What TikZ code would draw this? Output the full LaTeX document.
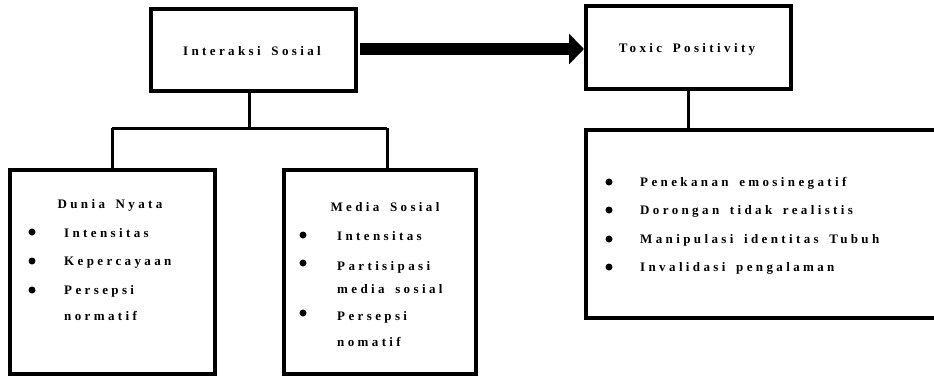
\documentclass[tikz,border=0pt]{standalone}
\usepackage{fontspec}
\setmainfont{Liberation Serif}
\newfontfamily\trk[LetterSpace=26,WordSpace=1.6]{Liberation Serif}
\usetikzlibrary{arrows.meta}
\begin{document}
\begin{tikzpicture}[x=1pt,y=-1pt,
  box/.style={draw,line width=4pt,inner sep=0,fill=white},
  conn/.style={line width=3pt},
  txt/.style={font=\trk\bfseries\fontsize{13}{15}\selectfont,inner sep=0,anchor=west},
  ttl/.style={font=\trk\bfseries\fontsize{13}{15}\selectfont,inner sep=0},
  dot/.style={circle,fill=black,inner sep=0,minimum size=7pt}]
\useasboundingbox (0,0) rectangle (934,378);
% boxes
\node[box,minimum width=205pt,minimum height=82pt] (inter) at (253.5,50) {};
\node[box,minimum width=205pt,minimum height=83pt] (toxic) at (688.5,47.5) {};
\node[box,minimum width=205pt,minimum height=204pt] (lb) at (112.5,272) {};
\node[box,minimum width=192pt,minimum height=204pt] (mb) at (380,272) {};
\node[box,minimum width=357pt,minimum height=188pt] (rb) at (764.5,224) {};
% titles
\node[ttl] (t1) at (252,51) {Interaksi Sosial};
\node[ttl] (t2) at (687,49) {Toxic Positivity};
\node[ttl] (t3) at (110,205) {Dunia Nyata};
\node[ttl] (t4) at (385,207) {Media Sosial};
% connectors
\coordinate (ja) at (249,128);
\coordinate (jl) at (112,128);
\coordinate (jr) at (387,128);
\draw[conn] (ja |- inter.south) -- (ja);
\draw[conn] (jl) -- (jr);
\draw[conn] (jl) -- (jl |- lb.north);
\draw[conn] (jr) -- (jr |- mb.north);
\draw[conn] (toxic.south) -- (rb.north -| toxic.south);
\draw[line width=12pt,-{Triangle[length=15pt,width=30pt]}] (inter.east) ++(2,0) coordinate (as) (as |- 0,49) -- (toxic.west |- 0,49);
% left list
\node[dot] (lb1) at (32,232) {};
\node[dot] (lb2) at (32,261) {};
\node[dot] (lb3) at (32,290) {};
\node[txt] (l1) at (64,233) {Intensitas};
\node[txt] (l2) at (64,263) {Kepercayaan};
\node[txt] (l3) at (64,291) {Persepsi};
\node[txt] (l4) at (64,316) {normatif};
% middle list
\node[dot] (mb1) at (303,235) {};
\node[dot] (mb2) at (303,263) {};
\node[dot] (mb3) at (303,313) {};
\node[txt] (m1) at (337,236) {Intensitas};
\node[txt] (m2) at (337,267) {Partisipasi};
\node[txt] (m3) at (337,289) {media sosial};
\node[txt] (m4) at (337,317) {Persepsi};
\node[txt] (m5) at (337,342) {nomatif};
% right list
\node[dot] (rb1) at (609,182) {};
\node[dot] (rb2) at (609,210) {};
\node[dot] (rb3) at (609,239) {};
\node[dot] (rb4) at (609,267) {};
\node[txt] (r1) at (640,183) {Penekanan emosinegatif};
\node[txt] (r2) at (640,211) {Dorongan tidak realistis};
\node[txt] (r3) at (640,240) {Manipulasi identitas Tubuh};
\node[txt] (r4) at (640,268) {Invalidasi pengalaman};
\end{tikzpicture}
\end{document}
